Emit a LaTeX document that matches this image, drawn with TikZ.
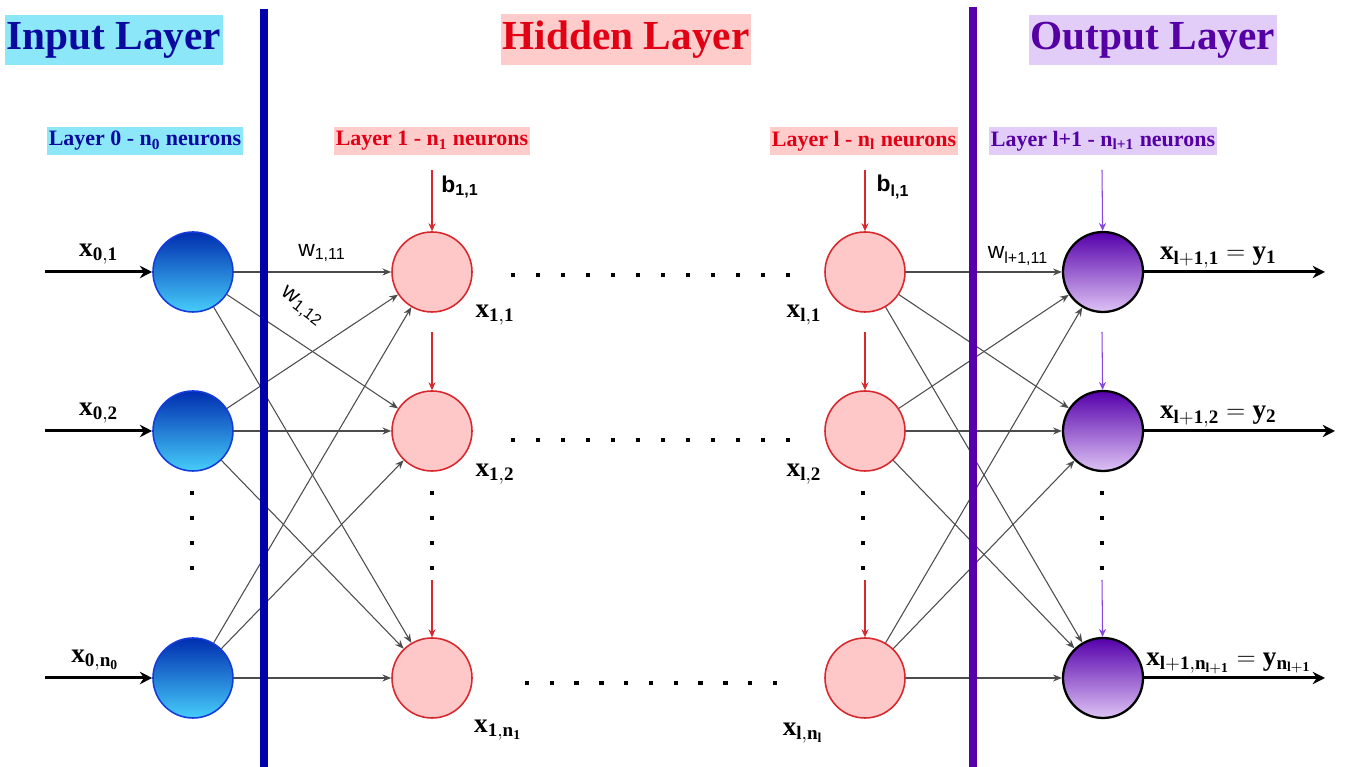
\documentclass[tikz,border=0pt]{standalone}
\usepackage{fontspec}
\setmainfont{Liberation Serif}
\newfontfamily\wfont{Liberation Sans}
\usepackage{amsmath}
\usetikzlibrary{arrows.meta,positioning}
\definecolor{inkblue}{RGB}{10,10,160}
\definecolor{barblue}{RGB}{0,0,170}
\definecolor{skybg}{RGB}{140,232,248}
\definecolor{hidred}{RGB}{225,0,20}
\definecolor{pinkbg}{RGB}{255,204,204}
\definecolor{nred}{RGB}{215,40,45}
\definecolor{npink}{RGB}{255,200,200}
\definecolor{outpurp}{RGB}{85,0,165}
\definecolor{barpurp}{RGB}{85,0,170}
\definecolor{lavbg}{RGB}{225,205,248}
\definecolor{ntop}{RGB}{0,45,175}
\definecolor{nbot}{RGB}{70,205,250}
\definecolor{nedge}{RGB}{20,60,220}
\definecolor{ptop}{RGB}{85,0,170}
\definecolor{pbot}{RGB}{222,195,245}
\definecolor{bpurp}{RGB}{135,70,225}
\tikzset{
  inN/.style  ={circle, minimum size=1.6cm, inner sep=0pt, draw=nedge, line width=0.9pt, top color=ntop, bottom color=nbot},
  hidN/.style ={circle, minimum size=1.6cm, inner sep=0pt, draw=nred, line width=0.9pt, fill=npink},
  outN/.style ={circle, minimum size=1.6cm, inner sep=0pt, draw=black, line width=1.3pt, top color=ptop, bottom color=pbot},
  wire/.style ={-{Stealth[length=5pt,width=4pt]}, black!70, line width=0.6pt},
  inArr/.style={-{Stealth[length=7pt,width=7pt]}, black, line width=1.7pt},
  biasR/.style={-{Stealth[length=4.5pt,width=4pt]}, nred, line width=0.6pt},
  biasP/.style={-{Stealth[length=4.5pt,width=4pt]}, bpurp, line width=0.6pt},
  ttl/.style  ={font=\fontsize{23.5}{28}\selectfont\bfseries, inner xsep=1pt, inner ysep=4pt},
  subT/.style ={font=\fontsize{12.5}{15}\selectfont\bfseries, inner xsep=1pt, inner ysep=2.5pt},
  xlab/.style ={font=\fontsize{15.5}{18}\selectfont},
  wlab/.style ={font=\fontsize{13}{15}\selectfont\wfont, inner sep=1pt},
  bar/.style  ={line width=4.6pt},
  dotS/.style ={fill=black},
}

\begin{document}
\begin{tikzpicture}
  \useasboundingbox (0,0) rectangle (27.22,15.34);
  \fill[white] (0,0) rectangle (27.22,15.34);
  % neurons
  \foreach \r/\y in {1/9.90, 2/6.72, 3/1.78}{
    \node[inN]  (i\r) at (3.86,\y) {};
    \node[hidN] (a\r) at (8.64,\y) {};
    \node[hidN] (b\r) at (17.30,\y) {};
    \node[outN] (o\r) at (22.06,\y) {};
  }
  % weights
  \foreach \i in {1,2,3}{
    \foreach \j in {1,2,3}{
      \draw[wire] (i\i) -- (a\j);
      \draw[wire] (b\i) -- (o\j);
    }
  }
  % layer borders
  \draw[bar, barblue] (5.28,15.16) -- (5.28,0);
  \draw[bar, barpurp] (19.46,15.20) -- (19.46,0);
  % titles
  \node[ttl, fill=skybg, text=inkblue]  (tIn)  at (2.28,14.54)  {Input Layer};
  \node[ttl, fill=pinkbg, text=hidred]  (tHid) at (12.52,14.55) {Hidden Layer};
  \node[ttl, fill=lavbg, text=outpurp]  (tOut) at (23.06,14.54) {Output Layer};
  \node[subT, fill=skybg, text=inkblue] (s0) at (2.90,12.52)  {Layer 0 - n\textsubscript{0} neurons};
  \node[subT, fill=pinkbg, text=hidred] (s1) at (8.64,12.52)  {Layer 1 - n\textsubscript{1} neurons};
  \node[subT, fill=pinkbg, text=hidred] (sl) at (17.28,12.52) {Layer l - n\textsubscript{l} neurons};
  \node[subT, fill=lavbg, text=outpurp] (sL) at (22.06,12.52) {Layer l+1 - n\textsubscript{l+1} neurons};
  % inputs
  \coordinate (e1) at (0.90,9.90); \coordinate (e2) at (0.90,6.72); \coordinate (e3) at (0.90,1.78);
  \draw[inArr] (e1) -- (i1) node[midway, above, xlab] {$\mathbf{x}_{\mathbf{0,1}}$};
  \draw[inArr] (e2) -- (i2) node[midway, above, xlab] {$\mathbf{x}_{\mathbf{0,2}}$};
  \draw[inArr] (e3) -- (i3) node[midway, above, xlab, xshift=-2pt] {$\mathbf{x}_{\mathbf{0,n_0}}$};
  % outputs
  \coordinate (f1) at (26.50,9.90); \coordinate (f2) at (26.70,6.72); \coordinate (f3) at (26.50,1.78);
  \draw[inArr] (o1) -- (f1);
  \draw[inArr] (o2) -- (f2);
  \draw[inArr] (o3) -- (f3);
  \node[xlab, anchor=south west, inner sep=2pt] (y1) at ([xshift=0.24cm]o1.east) {$\mathbf{x}_{\mathbf{l+1,1}}\;\mathbf{=}\;\mathbf{y}_{\mathbf{1}}$};
  \node[xlab, anchor=south west, inner sep=2pt] (y2) at ([xshift=0.24cm]o2.east) {$\mathbf{x}_{\mathbf{l+1,2}}\;\mathbf{=}\;\mathbf{y}_{\mathbf{2}}$};
  \node[xlab, anchor=south west, inner sep=1pt] (y3) at ([yshift=1pt]o3.east) {$\mathbf{x}_{\mathbf{l+1,n_{l+1}}}\;\mathbf{=}\;\mathbf{y}_{\mathbf{n_{l+1}}}$};
  % neuron outputs
  \node[xlab] (xa1) at (9.90,9.04)  {$\mathbf{x}_{\mathbf{1,1}}$};
  \node[xlab] (xa2) at (9.90,5.86)  {$\mathbf{x}_{\mathbf{1,2}}$};
  \node[xlab] (xa3) at (9.96,0.74)  {$\mathbf{x}_{\mathbf{1,n_1}}$};
  \node[xlab] (xb1) at (16.08,9.04) {$\mathbf{x}_{\mathbf{l,1}}$};
  \node[xlab] (xb2) at (16.08,5.86) {$\mathbf{x}_{\mathbf{l,2}}$};
  \node[xlab] (xb3) at (16.06,0.68) {$\mathbf{x}_{\mathbf{l,n_l}}$};
  % weight and bias labels
  \node[wlab] (w11) at (6.44,10.28) {w\textsubscript{1,11}};
  \node[wlab, rotate=-37] (w12) at (6.04,9.20) {w\textsubscript{1,12}};
  \node[wlab] (wL) at (20.36,10.22) {w\textsubscript{l+1,11}};
  \node[wlab, font=\fontsize{13}{15}\selectfont\wfont\bfseries] (b11) at (9.20,11.60) {b\textsubscript{1,1}};
  \node[wlab, font=\fontsize{13}{15}\selectfont\wfont\bfseries] (bl1) at (17.86,11.60) {b\textsubscript{l,1}};
  % biases
  \foreach \c/\x in {a/8.64, b/17.30}{
    \coordinate (\c t1) at (\x,11.94); \coordinate (\c t2) at (\x,8.70); \coordinate (\c t3) at (\x,3.74);
    \foreach \r in {1,2,3}{\draw[biasR] (\c t\r) -- (\c\r);}
  }
  \coordinate (ot1) at (22.04,11.94); \coordinate (ot2) at (22.04,8.70); \coordinate (ot3) at (22.04,3.74);
  \foreach \r in {1,2,3}{\draw[biasP] (ot\r) -- (o\r);}
  % dots
  \foreach \k in {0,...,11}{
    \fill[dotS] (10.26+0.5*\k-0.045,9.84-0.045) rectangle ++(0.09,0.09);
    \fill[dotS] (10.26+0.5*\k-0.045,6.54-0.045) rectangle ++(0.09,0.09);
  }
  \foreach \k in {0,...,10}{\fill[dotS] (10.54+0.496*\k-0.045,1.68-0.045) rectangle ++(0.09,0.09);}
  \foreach \x in {3.84,8.64,17.26,22.04}{
    \foreach \y in {5.48,4.98,4.48,3.98}{\fill[dotS] (\x-0.045,\y-0.045) rectangle ++(0.09,0.09);}
  }
\end{tikzpicture}
\end{document}
